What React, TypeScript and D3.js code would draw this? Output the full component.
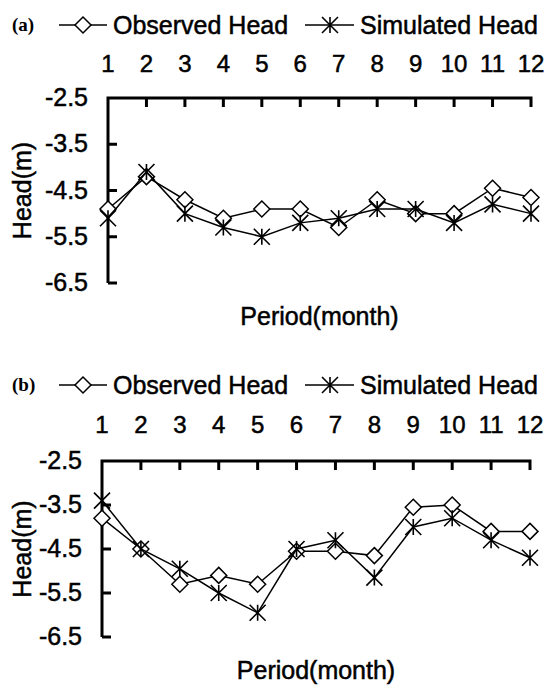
import React from 'react';
import * as d3 from 'd3';

// months on the category axis
const months = [1, 2, 3, 4, 5, 6, 7, 8, 9, 10, 11, 12];
const yTicks = [-2.5, -3.5, -4.5, -5.5, -6.5];

// panel (a)
const observedA = [-4.9, -4.2, -4.7, -5.1, -4.9, -4.9, -5.3, -4.7, -5.0, -5.0, -4.45, -4.65];
const simulatedA = [-5.1, -4.1, -5.0, -5.3, -5.5, -5.2, -5.1, -4.9, -4.9, -5.2, -4.8, -5.0];

// panel (b)
const observedB = [-3.8, -4.5, -5.3, -5.1, -5.3, -4.55, -4.55, -4.65, -3.55, -3.5, -4.1, -4.1];
const simulatedB = [-3.4, -4.5, -4.95, -5.5, -5.95, -4.5, -4.3, -5.15, -4.0, -3.8, -4.3, -4.7];

const FONT = "'Liberation Sans', Arial, sans-serif";
// the scanned text is heavier than a plain regular weight
const heavy = { fontFamily: FONT, stroke: '#000', strokeWidth: 0.5 };

const panels = [
  { tag: '(a)', obs: observedA, sim: simulatedA, left: 108, right: 531, top: 98, bottom: 283, legendY: 25, labelY: 64, titleY: 325 },
  { tag: '(b)', obs: observedB, sim: simulatedB, left: 102, right: 530, top: 461, bottom: 637, legendY: 385, labelY: 425, titleY: 679 },
];

const Diamond = ({ x, y, r = 8 }: { x: number; y: number; r?: number }) => (
  <path
    d={`M${x},${y - r}L${x + r},${y}L${x},${y + r}L${x - r},${y}Z`}
    fill="#fff"
    stroke="#000"
    strokeWidth={1.5}
  />
);

const Star = ({ x, y, r = 8 }: { x: number; y: number; r?: number }) => (
  <path
    d={`M${x},${y - r}L${x},${y + r}M${x - r},${y - r}L${x + r},${y + r}M${x - r},${y + r}L${x + r},${y - r}`}
    fill="none"
    stroke="#000"
    strokeWidth={1.6}
  />
);

const Panel = ({ p }: { p: (typeof panels)[number] }) => {
  const x = d3.scaleLinear().domain([1, 12]).range([p.left, p.right]);
  const y = d3.scaleLinear().domain([-2.5, -6.5]).range([p.top, p.bottom]);
  const line = d3
    .line<number>()
    .x((_, i) => x(months[i]))
    .y((d) => y(d));

  return (
    <g>
      {/* legend */}
      <text x={12} y={p.legendY + 6} fontFamily="'Liberation Serif', 'Times New Roman', serif" fontWeight="bold" fontSize={19}>
        {p.tag}
      </text>
      <line x1={59} x2={107} y1={p.legendY} y2={p.legendY} stroke="#000" strokeWidth={1.6} />
      <Diamond x={83} y={p.legendY} />
      <text x={113} y={p.legendY + 9} {...heavy} fontSize={25}>
        Observed Head
      </text>
      <line x1={305} x2={354} y1={p.legendY} y2={p.legendY} stroke="#000" strokeWidth={1.6} />
      <Star x={330} y={p.legendY} />
      <text x={360} y={p.legendY + 9} {...heavy} fontSize={25}>
        Simulated Head
      </text>

      {/* category labels on top */}
      {months.map((m) => (
        <text key={m} x={x(m)} y={p.labelY + 8} textAnchor="middle" {...heavy} fontSize={24}>
          {m}
        </text>
      ))}

      {/* axes */}
      <path
        d={`M${x(12)},${p.top + 9}V${p.top}H${p.left}V${p.bottom}`}
        fill="none"
        stroke="#000"
        strokeWidth={3}
      />
      {months.slice(1, 11).map((m) => (
        <line key={m} x1={x(m)} x2={x(m)} y1={p.top} y2={p.top + 9} stroke="#000" strokeWidth={3} />
      ))}
      {yTicks.slice(1).map((t) => (
        <line key={t} x1={p.left} x2={p.left + 9} y1={y(t)} y2={y(t)} stroke="#000" strokeWidth={3} />
      ))}
      {yTicks.map((t) => (
        <text key={t} x={p.left - 20} y={y(t) + 8} textAnchor="end" {...heavy} fontSize={25}>
          {t.toFixed(1)}
        </text>
      ))}

      {/* axis titles */}
      <text
        transform={`translate(31,${(p.top + p.bottom) / 2}) rotate(-90)`}
        textAnchor="middle"
        {...heavy}
        fontSize={25}
      >
        Head(m)
      </text>
      <text x={(p.left + p.right) / 2} y={p.titleY} textAnchor="middle" {...heavy} fontSize={25}>
        Period(month)
      </text>

      {/* series */}
      <path d={line(p.obs) || ''} fill="none" stroke="#000" strokeWidth={1.5} />
      {p.obs.map((v, i) => (
        <Diamond key={i} x={x(months[i])} y={y(v)} />
      ))}
      <path d={line(p.sim) || ''} fill="none" stroke="#000" strokeWidth={1.5} />
      {p.sim.map((v, i) => (
        <Star key={i} x={x(months[i])} y={y(v)} />
      ))}
    </g>
  );
};

export default function App() {
  return (
    <svg width={544} height={692} style={{ position: 'absolute', left: 0, top: 0, background: '#fff' }}>
      <rect width={544} height={692} fill="#fff" />
      {panels.map((p) => (
        <Panel key={p.tag} p={p} />
      ))}
    </svg>
  );
}
